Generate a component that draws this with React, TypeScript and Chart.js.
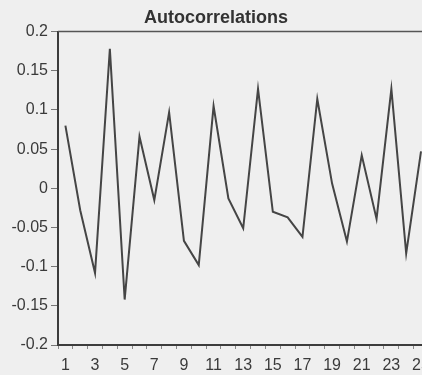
import React, { useEffect, useRef } from "react";
import { Chart, registerables } from "chart.js";

Chart.register(...registerables);

const lags: string[] = Array.from({ length: 25 }, (_, i) => String(i + 1));
const autocorrelations: number[] = [
  0.08, -0.028, -0.108, 0.178, -0.142, 0.066, -0.015, 0.097, -0.067, -0.098,
  0.105, -0.013, -0.051, 0.127, -0.03, -0.037, -0.062, 0.114, 0.006, -0.068,
  0.042, -0.039, 0.127, -0.083, 0.047,
];
const yTicks: number[] = [0.2, 0.15, 0.1, 0.05, 0, -0.05, -0.1, -0.15, -0.2];
const titleText = "Autocorrelations";

const FONT = "'Liberation Sans', Arial, sans-serif";
const AXIS = "#3c3c3c";
const TEXT = "#3a3a3a";

const topBorder = {
  id: "topBorder",
  afterDraw(chart: any) {
    const { ctx, chartArea } = chart;
    ctx.save();
    ctx.strokeStyle = "#555";
    ctx.lineWidth = 1.5;
    ctx.beginPath();
    ctx.moveTo(chartArea.left, chartArea.top);
    ctx.lineTo(chartArea.right, chartArea.top);
    ctx.stroke();
    ctx.restore();
  },
};

const bgPlugin = {
  id: "bgFill",
  beforeDraw(chart: any) {
    const { ctx, width, height } = chart;
    ctx.save();
    ctx.fillStyle = "#efefef";
    ctx.fillRect(0, 0, width, height);
    ctx.restore();
  },
};

export default function App() {
  const ref = useRef<HTMLCanvasElement | null>(null);

  useEffect(() => {
    if (!ref.current) return;
    const chart = new Chart(ref.current, {
      type: "line",
      data: {
        labels: lags,
        datasets: [
          {
            data: autocorrelations,
            borderColor: "#454545",
            borderWidth: 2,
            pointRadius: 0,
            tension: 0,
            fill: false,
          },
        ],
      },
      options: {
        animation: false,
        responsive: false,
        maintainAspectRatio: false,
        layout: { padding: { top: 0, right: 5, bottom: 0, left: 0 } },
        plugins: {
          legend: { display: false },
          tooltip: { enabled: false },
          title: {
            display: true,
            text: titleText,
            color: "#333",
            font: { family: FONT, size: 18, weight: "bold", lineHeight: 1.2 },
            padding: { top: 7, bottom: 3 },
          },
        },
        scales: {
          x: {
            type: "category",
            offset: true,
            afterFit: (s: any) => {
              s.height = 30;
            },
            grid: {
              offset: true,
              drawOnChartArea: false,
              drawTicks: true,
              tickLength: 4,
              color: "#888",
            },
            border: { display: true, color: AXIS, width: 2 },
            ticks: {
              autoSkip: false,
              maxRotation: 0,
              color: TEXT,
              padding: 7,
              font: { family: FONT, size: 16 },
              callback: (_v: any, i: number) => (i % 2 === 0 ? lags[i] : ""),
            },
          },
          y: {
            min: -0.2,
            max: 0.2,
            afterFit: (s: any) => {
              s.width = 58;
            },
            afterBuildTicks: (s: any) => {
              s.ticks = yTicks.map((v) => ({ value: v }));
            },
            grid: {
              drawOnChartArea: false,
              drawTicks: true,
              tickLength: 7,
              color: "#777",
            },
            border: { display: true, color: AXIS, width: 2 },
            ticks: {
              color: TEXT,
              padding: 3,
              font: { family: FONT, size: 16 },
              callback: (v: any) => String(Number(v)),
            },
          },
        },
      },
      plugins: [bgPlugin, topBorder],
    });
    return () => chart.destroy();
  }, []);

  return (
    <div
      style={{
        position: "fixed",
        left: 0,
        top: 0,
        width: 422,
        height: 375,
        overflow: "hidden",
        background: "#efefef",
      }}
    >
      <canvas ref={ref} width={437} height={375} style={{ display: "block" }} />
    </div>
  );
}
